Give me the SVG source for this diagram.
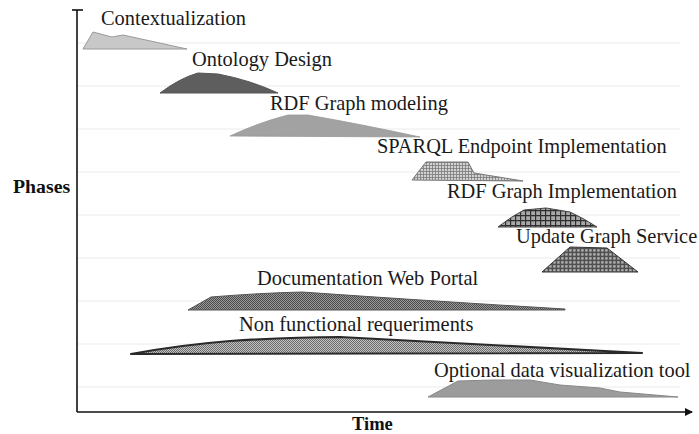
<svg xmlns="http://www.w3.org/2000/svg" width="699" height="434" viewBox="0 0 699 434">
<style>
.lbl{font-family:"Liberation Serif","Times New Roman",serif;font-size:20.4px;fill:#1a1a1a}
.ax{font-family:"Liberation Serif","Times New Roman",serif;font-weight:bold;fill:#111}
.grid{stroke:#ececec;stroke-width:1.2;fill:none}
.axis{stroke:#111;stroke-width:1.6;fill:none}
</style>
<defs>
<pattern id="pSparql" width="3" height="3" patternUnits="userSpaceOnUse">
<rect width="3" height="3" fill="#d2d2d2"/>
<path d="M0 0.5H3M0.5 0V3" stroke="#7a7a7a" stroke-width="0.8"/>
</pattern>
<pattern id="pRdfImpl" width="5" height="5" patternUnits="userSpaceOnUse">
<rect width="5" height="5" fill="#a8a8a8"/>
<path d="M0 0.6H5M0.6 0V5" stroke="#2e2e2e" stroke-width="1.2"/>
</pattern>
<pattern id="pUpdate" width="4" height="4" patternUnits="userSpaceOnUse">
<rect width="4" height="4" fill="#505050"/>
<rect x="1.2" y="1.2" width="2.4" height="2.4" fill="#b4b4b4"/>
</pattern>
<pattern id="pDoc" width="2" height="2" patternUnits="userSpaceOnUse">
<rect width="2" height="2" fill="#9a9a9a"/>
<rect width="1" height="1" fill="#4a4a4a"/>
<rect x="1" y="1" width="1" height="1" fill="#4a4a4a"/>
</pattern>
<pattern id="pNon" width="2" height="2" patternUnits="userSpaceOnUse">
<rect width="2" height="2" fill="#c4c4c4"/>
<rect width="1" height="1" fill="#6a6a6a"/>
<rect x="1" y="1" width="1" height="1" fill="#6a6a6a"/>
</pattern>
<marker id="arr" markerWidth="8" markerHeight="8" refX="7" refY="4" orient="auto" markerUnits="userSpaceOnUse">
<path d="M0 0L8 4L0 8Z" fill="#111"/>
</marker>
</defs>
<g id="grid">
<path class="grid" d="M78 43H680M78 86H680M78 129H680M78 172H680M78 215H680M78 258H680M78 301H680M78 344H680M78 387H680"/>
</g>
<g id="axes">
<path class="axis" d="M77 10V412"/>
<path class="axis" d="M72 10H83"/>
<path class="axis" d="M77 412H692" marker-end="url(#arr)"/>
<text class="ax" x="13" y="193" font-size="19.8">Phases</text>
<text class="ax" x="352" y="430" font-size="18.5">Time</text>
</g>
<g id="contextualization">
<polygon points="83,49 93,32 112,37 123,35 187,49" fill="#c8c8c8" stroke="#9a9a9a" stroke-width="1"/>
<text class="lbl" x="101" y="25">Contextualization</text>
</g>
<g id="ontology-design">
<path d="M160,93 Q180,78 198,73 L218,74 Q250,80 278,93 Z" fill="#5e5e5e" stroke="#555" stroke-width="1"/>
<text class="lbl" x="192" y="66">Ontology Design</text>
</g>
<g id="rdf-graph-modeling">
<path d="M230,136 Q260,122 288,115 L308,115 Q360,124 420,137 Z" fill="#a2a2a2" stroke="#999" stroke-width="0.8"/>
<text class="lbl" x="270" y="110">RDF Graph modeling</text>
</g>
<g id="sparql-endpoint">
<polygon points="412,180 426,162 468,162 474,173 523,181" fill="url(#pSparql)" stroke="#777" stroke-width="1"/>
<text class="lbl" x="377" y="153">SPARQL Endpoint Implementation</text>
</g>
<g id="rdf-graph-implementation">
<path d="M498,227 Q512,216 524,210 L546,208 L570,212 Q585,219 597,227 Z" fill="url(#pRdfImpl)" stroke="#444" stroke-width="1"/>
<text class="lbl" x="447" y="198">RDF Graph Implementation</text>
</g>
<g id="update-graph-service">
<polygon points="542,272 570,247 607,248 638,272" fill="url(#pUpdate)" stroke="#333" stroke-width="1"/>
<text class="lbl" x="516" y="243">Update Graph Service</text>
</g>
<g id="documentation-web-portal">
<path d="M188,310 L211,297 Q260,293 302,292 Q430,301 565,309 L565,310 Z" fill="url(#pDoc)" stroke="#555" stroke-width="1"/>
<text class="lbl" x="257" y="285">Documentation Web Portal</text>
</g>
<g id="non-functional">
<path d="M131,354 Q180,345 230,341 Q290,337 340,337 Q400,340 642,353 Z" fill="url(#pNon)" stroke="#2a2a2a" stroke-width="2.2" stroke-linejoin="round"/>
<text class="lbl" x="239" y="331">Non functional requeriments</text>
</g>
<g id="optional-visualization">
<polygon points="428,397 458,381 493,380 530,380 560,385 600,388 620,392 678,397" fill="#9c9c9c" stroke="#888" stroke-width="1"/>
<text class="lbl" x="434" y="377">Optional data visualization tool</text>
</g>
</svg>
